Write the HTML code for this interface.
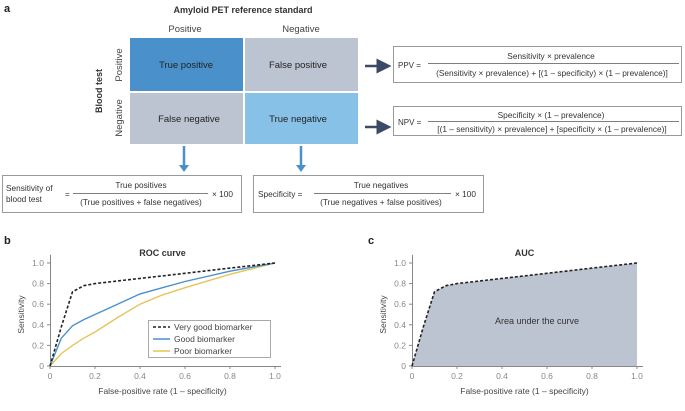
<!DOCTYPE html>
<html><head><meta charset="utf-8"><style>
body{margin:0;background:#fff;width:685px;height:406px;overflow:hidden;font-family:"Liberation Sans",sans-serif;color:#333}
</style></head><body>
<svg width="685" height="406" viewBox="0 0 685 406" xmlns="http://www.w3.org/2000/svg" font-family="Liberation Sans, sans-serif">
<defs>
<marker id="ad" markerWidth="6" markerHeight="6" refX="3" refY="3" orient="auto"><path d="M0,0 L6,3 L0,6 Z" fill="#3c4a68"/></marker>
</defs>
<text x="4" y="12" font-size="11" font-weight="bold" fill="#222">a</text>
<text x="243" y="13" font-size="9" font-weight="bold" text-anchor="middle" fill="#333">Amyloid PET reference standard</text>
<text x="185" y="32" font-size="9.5" text-anchor="middle" fill="#444">Positive</text>
<text x="301" y="32" font-size="9.5" text-anchor="middle" fill="#444">Negative</text>
<text transform="translate(102,91) rotate(-90)" font-size="9" font-weight="bold" text-anchor="middle" fill="#333">Blood test</text>
<text transform="translate(122,65) rotate(-90)" font-size="9.5" text-anchor="middle" fill="#444">Positive</text>
<text transform="translate(122,118) rotate(-90)" font-size="9.5" text-anchor="middle" fill="#444">Negative</text>
<rect x="130" y="38" width="113" height="53" fill="#4a91cc"/>
<rect x="245" y="38" width="113" height="53" fill="#bcc4d1"/>
<rect x="130" y="93" width="113" height="51" fill="#bcc4d1"/>
<rect x="245" y="93" width="113" height="51" fill="#87c1e8"/>
<text x="186" y="68" font-size="9.5" text-anchor="middle" fill="#222">True positive</text>
<text x="298" y="68" font-size="9.5" text-anchor="middle" fill="#222">False positive</text>
<text x="189" y="122" font-size="9.5" text-anchor="middle" fill="#222">False negative</text>
<text x="298" y="122" font-size="9.5" text-anchor="middle" fill="#222">True negative</text>
<line x1="365" y1="66" x2="384" y2="66" stroke="#3c4a68" stroke-width="2.5" marker-end="url(#ad)"/>
<line x1="365" y1="127" x2="384" y2="127" stroke="#3c4a68" stroke-width="2.5" marker-end="url(#ad)"/>
<g>
<rect x="393.5" y="46.5" width="288" height="36" fill="#fff" stroke="#999"/>
<text x="398" y="68" font-size="8" fill="#333">PPV =</text>
<text x="551" y="59" font-size="8.3" text-anchor="middle" fill="#333">Sensitivity × prevalence</text>
<line x1="428" y1="63.5" x2="679" y2="63.5" stroke="#555" stroke-width="0.7"/>
<text x="552" y="76" font-size="8.3" text-anchor="middle" fill="#333">(Sensitivity × prevalence) + [(1 – specificity) × (1 – prevalence)]</text>
</g>
<g>
<rect x="393.5" y="106.5" width="288" height="29" fill="#fff" stroke="#999"/>
<text x="398" y="125" font-size="8" fill="#333">NPV =</text>
<text x="551" y="118" font-size="8.3" text-anchor="middle" fill="#333">Specificity × (1 – prevalence)</text>
<line x1="428" y1="121.5" x2="679" y2="121.5" stroke="#555" stroke-width="0.7"/>
<text x="552" y="132" font-size="8.3" text-anchor="middle" fill="#333">[(1 – sensitivity) × prevalence] + [specificity × (1 – prevalence)]</text>
</g>
<line x1="184" y1="146" x2="184" y2="166" stroke="#4a91cc" stroke-width="2.5"/>
<path d="M179,165 L184,172 L189,165 Z" fill="#4a91cc"/>
<line x1="301" y1="146" x2="301" y2="166" stroke="#4a91cc" stroke-width="2.5"/>
<path d="M296,165 L301,172 L306,165 Z" fill="#4a91cc"/>
<g>
<rect x="2.5" y="175.5" width="239" height="37" fill="#fff" stroke="#999"/>
<text x="6" y="191" font-size="8.3" fill="#333">Sensitivity of</text>
<text x="6" y="202" font-size="8.3" fill="#333">blood test</text>
<text x="65" y="197" font-size="8" fill="#333">=</text>
<text x="141" y="188" font-size="8.3" text-anchor="middle" fill="#333">True positives</text>
<line x1="73" y1="193.5" x2="208" y2="193.5" stroke="#555" stroke-width="0.7"/>
<text x="141" y="205" font-size="8.3" text-anchor="middle" fill="#333">(True positives + false negatives)</text>
<text x="212" y="197" font-size="8.3" fill="#333">× 100</text>
</g>
<g>
<rect x="253.5" y="175.5" width="230" height="37" fill="#fff" stroke="#999"/>
<text x="258" y="197" font-size="8.3" fill="#333">Specificity =</text>
<text x="381" y="188" font-size="8.3" text-anchor="middle" fill="#333">True negatives</text>
<line x1="314" y1="193.5" x2="451" y2="193.5" stroke="#555" stroke-width="0.7"/>
<text x="381" y="205" font-size="8.3" text-anchor="middle" fill="#333">(True negatives + false positives)</text>
<text x="455" y="197" font-size="8.3" fill="#333">× 100</text>
</g>
<g id="charts"></g>
</svg>
<script>
const fpr = [0, 0.05, 0.1, 0.15, 0.2, 0.3, 0.4, 0.5, 0.6, 0.8, 1.0];
const veryGood = [0, 0.38, 0.72, 0.78, 0.80, 0.825, 0.85, 0.875, 0.9, 0.95, 1.0];
const good = [0, 0.27, 0.39, 0.45, 0.50, 0.60, 0.70, 0.76, 0.82, 0.92, 1.0];
const poor = [0, 0.12, 0.20, 0.27, 0.33, 0.47, 0.60, 0.69, 0.76, 0.89, 1.0];
const ticks = [0, 0.2, 0.4, 0.6, 0.8, 1.0];
const tickLabels = ["0", "0.2", "0.4", "0.6", "0.8", "1.0"];
const NS = "http://www.w3.org/2000/svg";
const root = document.getElementById('charts');
function mk(tag, attrs, parent, text){const e=document.createElementNS(NS,tag);for(const k in attrs)e.setAttribute(k,attrs[k]);if(text!==undefined)e.textContent=text;parent.appendChild(e);return e;}
function chart(x0, label, title, panelX){
  const W=225, y0=366, H=103;
  const sx=v=>x0+v*W, sy=v=>y0-v*H;
  const g=mk('g',{},root);
  
  
  const pl=mk('text',{x:panelX,y:244,'font-size':11,'font-weight':'bold',fill:'#222'},g,label);
  
  
  const t=mk('text',{x:x0+W/2,y:256,'font-size':9,'font-weight':'bold','text-anchor':'middle',fill:'#333'},g,title);
  
  
  return {g,sx,sy,x0,y0,W,H};
}
function axes(c){
  const {g,sx,sy,x0,y0,W}=c;
  const ax=mk('line',{x1:x0,y1:y0+0.5,x2:x0+W+6,y2:y0+0.5,stroke:'#888','stroke-width':1},g);
  
  
  const ay=mk('line',{x1:x0+0.5,y1:y0,x2:x0+0.5,y2:sy(1.08),stroke:'#888','stroke-width':1},g);
  
  
  ticks.forEach((v,i)=>{
    mk('line',{x1:sx(v),y1:y0,x2:sx(v),y2:y0+3,stroke:'#888'},g);
    const xl=mk('text',{x:sx(v),y:y0+13,'font-size':8.5,'text-anchor':'middle',fill:'#888'},g,tickLabels[i]);
    
    
    mk('line',{x1:x0-3,y1:sy(v),x2:x0,y2:sy(v),stroke:'#888'},g);
    const yl=mk('text',{x:x0-6,y:sy(v)+3,'font-size':8.5,'text-anchor':'end',fill:'#888'},g,tickLabels[i]);
    
    
  });
  const xt=mk('text',{x:x0+W/2,y:394,'font-size':8.5,'text-anchor':'middle',fill:'#444'},g,'False-positive rate (1 – specificity)');
  
  
  const yt=mk('text',{transform:`translate(${x0-26},${sy(0.5)}) rotate(-90)`,'font-size':8.5,'text-anchor':'middle',fill:'#444'},g,'Sensitivity');
  
  
}
function path(c, ys){return fpr.map((v,i)=>(i?'L':'M')+c.sx(v).toFixed(1)+','+c.sy(ys[i]).toFixed(1)).join(' ');}
const b=chart(50,'b','ROC curve',4);
axes(b);
const pp=mk('path',{d:path(b,poor),fill:'none',stroke:'#e8c35a','stroke-width':1.4},b.g);


const gp=mk('path',{d:path(b,good),fill:'none',stroke:'#4a91cc','stroke-width':1.4},b.g);


const vp=mk('path',{d:path(b,veryGood),fill:'none',stroke:'#222','stroke-width':1.6,'stroke-dasharray':'3,2'},b.g);


const lg=mk('g',{},b.g);


mk('rect',{x:148.5,y:320.5,width:122,height:37,fill:'#fff',stroke:'#aaa'},lg);
[['Very good biomarker','#222','3,2',330],['Good biomarker','#4a91cc','',342],['Poor biomarker','#e8c35a','',354]].forEach(r=>{
  const e=mk('g',{},lg);
  
  
  mk('line',{x1:153,y1:r[3]-3,x2:170,y2:r[3]-3,stroke:r[1],'stroke-width':1.6,'stroke-dasharray':r[2]},e);
  mk('text',{x:174,y:r[3],'font-size':8.5,fill:'#444'},e,r[0]);
});
const c=chart(412,'c','AUC',368);
const area=mk('path',{d:path(c,veryGood)+` L${c.sx(1)},${c.sy(0)} L${c.sx(0)},${c.sy(0)} Z`,fill:'#bcc4d1'},c.g);


axes(c);
const cv=mk('path',{d:path(c,veryGood),fill:'none',stroke:'#222','stroke-width':1.6,'stroke-dasharray':'3,2'},c.g);


const at=mk('text',{x:537,y:324,'font-size':9,'text-anchor':'middle',fill:'#333'},c.g,'Area under the curve');


</script>
</body></html>
